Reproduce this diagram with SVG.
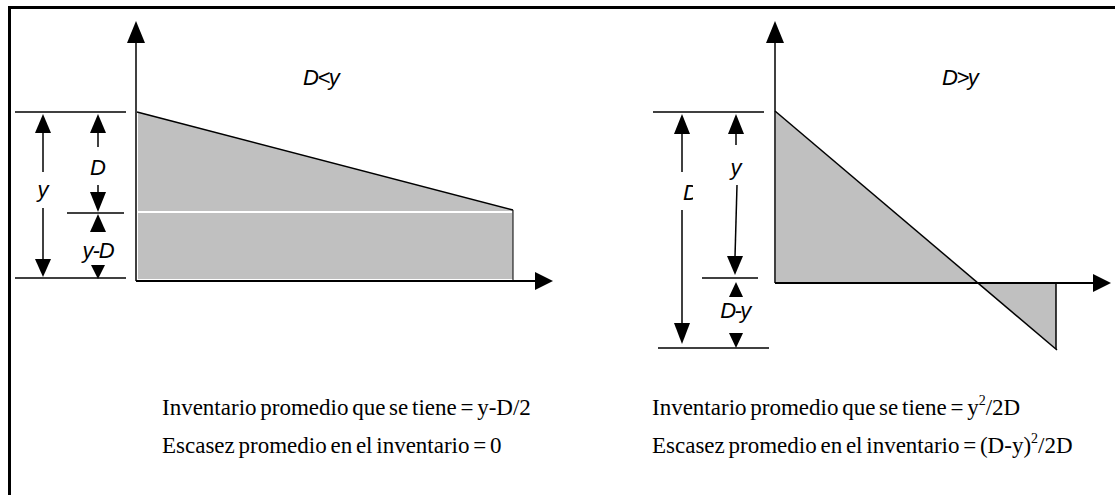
<svg xmlns="http://www.w3.org/2000/svg" width="1115" height="495" viewBox="0 0 1115 495">
<style>
.ln{stroke:#000;stroke-width:1.5;fill:none}
.ax{stroke:#000;stroke-width:2;fill:none}
.ah{fill:#000;stroke:none}
.sh{fill:#c0c0c0;stroke:none}
.lab{font-family:"Liberation Sans",Arial,sans-serif;font-style:italic;font-size:22px;fill:#000}
.cap{font-family:"Liberation Serif","Times New Roman",serif;font-size:23px;word-spacing:-2px;fill:#000}
.sup{font-size:14px}
</style>
<defs>
<clipPath id="clipD"><rect x="670" y="170" width="23" height="40"/></clipPath>
</defs>
<rect width="1115" height="495" fill="#fff"/>
<g id="frame">
<path d="M9.5,495 V7.5 H1115" stroke="#000" stroke-width="3" fill="none"/>
</g>
<g id="left-chart">
<polygon class="sh" points="138,112 513,210 513,279 138,279"/>
<line x1="138" y1="212" x2="512" y2="212" stroke="#fff" stroke-width="2"/>
<line class="ln" x1="137" y1="112" x2="513" y2="210"/>
<line x1="513" y1="210" x2="513" y2="280" stroke="#000" stroke-width="1"/>
</g>
<g id="right-chart">
<polygon class="sh" points="776,112 977,283 776,283"/>
<polygon class="sh" points="977,283 1056,283 1056,349"/>
<line class="ln" x1="775" y1="111" x2="1057" y2="350"/>
<line class="ln" x1="1056" y1="283" x2="1056" y2="349"/>
</g>
<g id="connectors">
<line class="ln" x1="136" y1="42" x2="136" y2="281"/>
<polygon class="ah" points="136,21 127,43 145,43"/>
<line class="ax" x1="136" y1="281" x2="536" y2="281"/>
<polygon class="ah" points="553,281 535,272 535,290"/>
<line class="ln" x1="15" y1="112" x2="126" y2="112"/>
<line class="ln" x1="67" y1="213" x2="124" y2="213"/>
<line class="ln" x1="15" y1="278" x2="126" y2="278"/>
<polygon class="ah" points="43,114 35,133 51,133"/>
<line class="ln" x1="43" y1="133" x2="43" y2="172"/>
<line class="ln" x1="43" y1="208" x2="43" y2="260"/>
<polygon class="ah" points="43,277 35,259 51,259"/>
<polygon class="ah" points="98,114 90,133 106,133"/>
<line class="ln" x1="98" y1="133" x2="98" y2="147"/>
<line class="ln" x1="98" y1="185" x2="98" y2="193"/>
<polygon class="ah" points="98,212 90,192 106,192"/>
<polygon class="ah" points="98,214 90,232 106,232"/>
<polygon class="ah" points="98,279 91,265 105,265"/>
<line class="ln" x1="775" y1="42" x2="775" y2="283"/>
<polygon class="ah" points="775,21 766,43 784,43"/>
<line class="ax" x1="775" y1="283" x2="1094" y2="283"/>
<polygon class="ah" points="1111,283 1093,274 1093,292"/>
<line class="ln" x1="653" y1="112" x2="764" y2="112"/>
<line class="ln" x1="702" y1="278" x2="758" y2="278"/>
<line class="ln" x1="658" y1="348" x2="769" y2="348"/>
<polygon class="ah" points="682,114 674,134 690,134"/>
<line class="ln" x1="682" y1="134" x2="682" y2="172"/>
<line class="ln" x1="682" y1="210" x2="682" y2="324"/>
<polygon class="ah" points="682,344 674,323 690,323"/>
<polygon class="ah" points="736,114 728,134 744,134"/>
<line class="ln" x1="736" y1="134" x2="736" y2="145"/>
<line class="ln" x1="737" y1="185" x2="735" y2="257"/>
<polygon class="ah" points="735,275 727,256 743,256"/>
<polygon class="ah" points="736,282 729,297 743,297"/>
<polygon class="ah" points="736,348 729,333 743,333"/>
</g>
<g id="labels">
<text class="lab" x="303" y="85" font-size="23" letter-spacing="-1.5">D&lt;y</text>
<text class="lab" x="942" y="85" font-size="23" letter-spacing="-1.5">D&gt;y</text>
<text class="lab" x="43" y="197" text-anchor="middle">y</text>
<text class="lab" x="98" y="175" text-anchor="middle">D</text>
<text class="lab" x="98" y="258" text-anchor="middle" letter-spacing="-1">y-D</text>
<text class="lab" x="683" y="200" clip-path="url(#clipD)">D</text>
<text class="lab" x="736" y="175" text-anchor="middle">y</text>
<text class="lab" x="735" y="318" text-anchor="middle" letter-spacing="-1.5">D-y</text>
</g>
<g id="captions">
<text class="cap" x="162" y="415">Inventario promedio que se tiene = y-D/2</text>
<text class="cap" x="162" y="453">Escasez promedio en el inventario = 0</text>
<text class="cap" x="652" y="415">Inventario promedio que se tiene = y<tspan class="sup" dy="-10">2</tspan><tspan dy="10">/2D</tspan></text>
<text class="cap" x="652" y="453">Escasez promedio en el inventario = (D-y)<tspan class="sup" dy="-10">2</tspan><tspan dy="10">/2D</tspan></text>
</g>
</svg>
